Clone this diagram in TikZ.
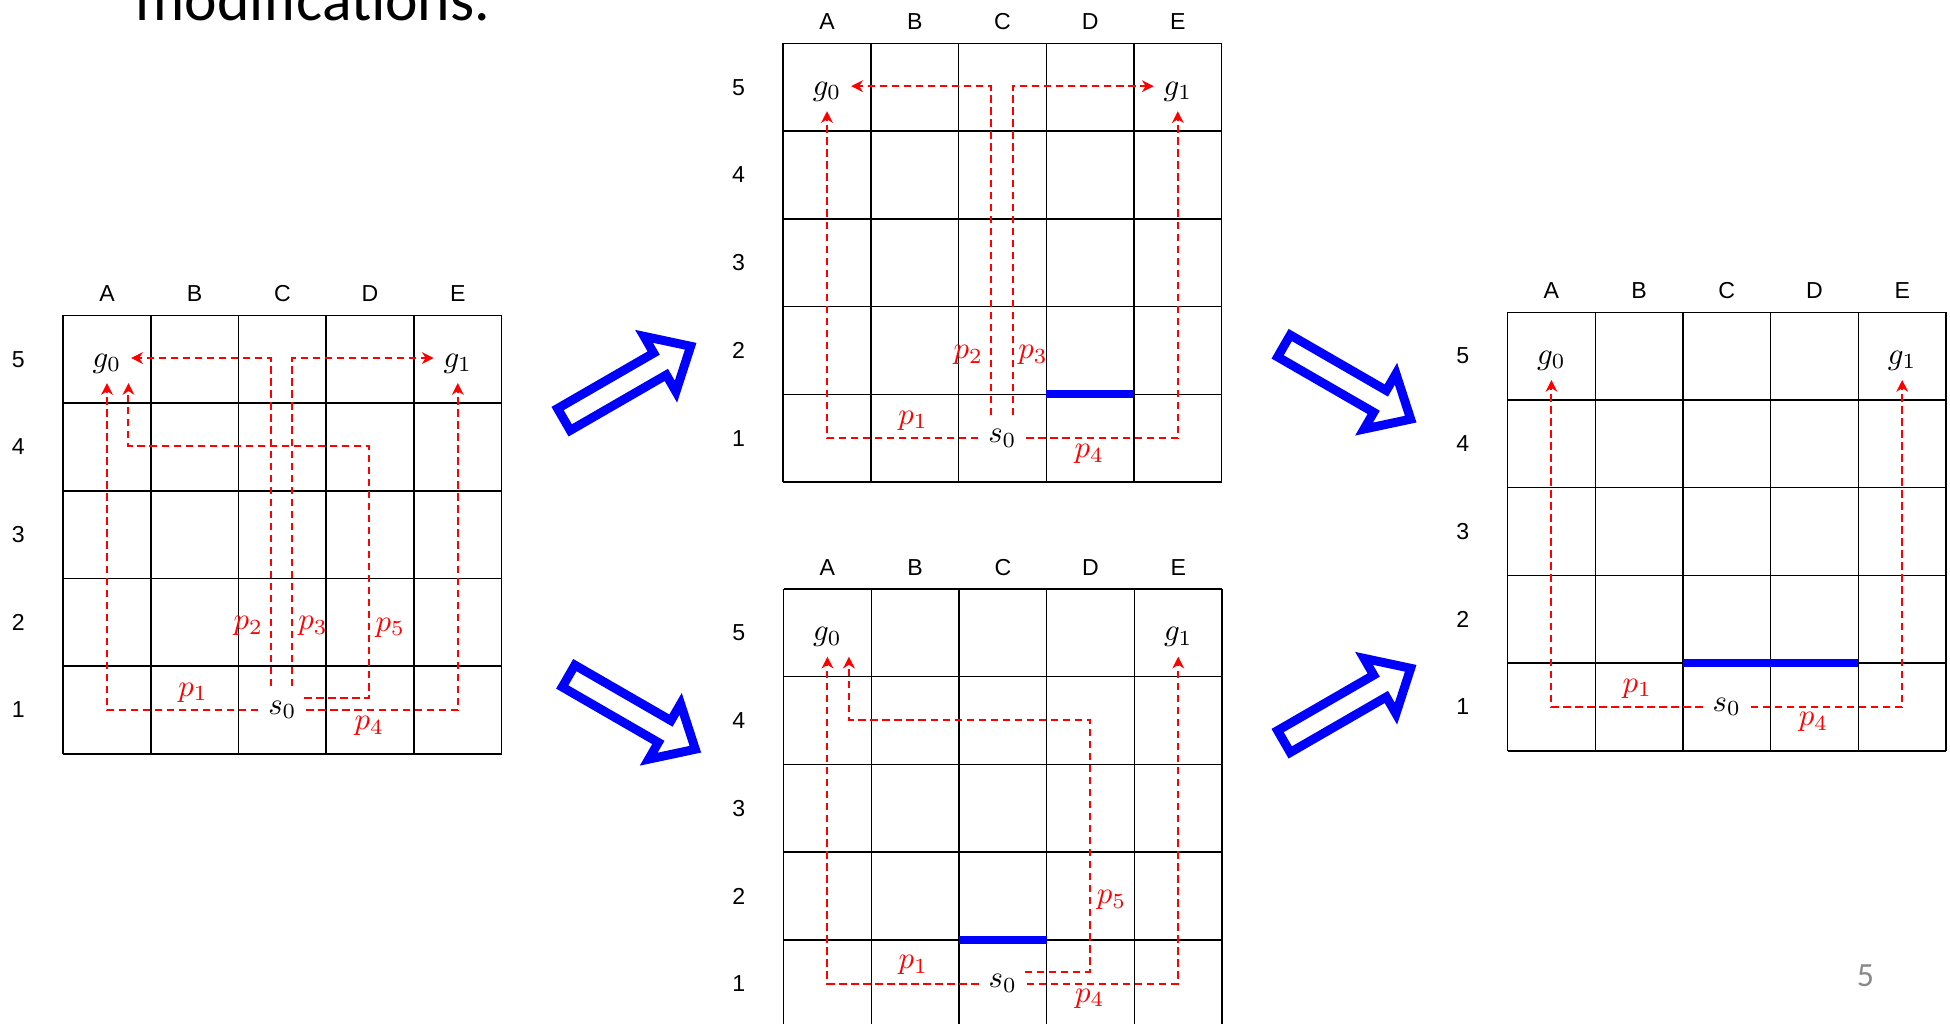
\documentclass[tikz,border=0pt]{standalone}
\usepackage{fontspec}
\setsansfont{Liberation Sans}
\newfontfamily\slidefont{Carlito}
\usetikzlibrary{arrows.meta}

\begin{document}
\begin{tikzpicture}
\definecolor{pathred}{RGB}{255,0,0}
\definecolor{wallblue}{RGB}{0,0,255}
\definecolor{pagegray}{RGB}{137,137,137}
\tikzset{
	cell/.style={line width=0.5pt},
	axis/.style={font=\sffamily\fontsize{7.5}{9}\selectfont},
	state/.style={inner sep=3pt},
	route/.style={pathred, line width=0.65pt, dash pattern=on 2.4pt off 1.5pt,
		-{Stealth[length=3.8pt,width=3.8pt,inset=1.2pt]}},
	plabel/.style={text=pathred, inner sep=1pt},
	wall/.style={wallblue, line width=2.7pt},
	bigarrow/.style={wallblue, line width=2.9pt, line join=miter}
}
	\useasboundingbox (0,0) rectangle (22.235,11.676);
	\clip (0,0) rectangle (22.235,11.676);
	\node[anchor=base west, inner sep=0, font=\slidefont\fontsize{20}{24}\selectfont] (title) at (1.54,11.44) {modifications.};
	\node[anchor=base, font=\slidefont\fontsize{11}{13}\selectfont, text=pagegray] (page) at (21.27,0.425) {5};
	% left board
	\begin{scope}[shift={(0.72,3.08)}]
	\draw[cell] (0,0) grid (5,5);
	\foreach \c [count=\i from 0] in {A,B,C,D,E} \node[axis] (colL\i) at (\i+0.5,5.25) {\c};
	\foreach \r in {1,...,5} \node[axis] (rowL\r) at (-0.51,\r-0.5) {\r};
	\node[state] (g0L) at (0.5,4.45) {$g_0$};
	\node[state] (g1L) at (4.5,4.45) {$g_1$};
	\node[state] (s0L) at (2.5,0.5) {$s_0$};
	\coordinate (p2L) at (2.365,0.77);
	\coordinate (p3L) at (2.615,0.77);
	\coordinate (p5L) at (2.75,0.64);
	\draw[route] (s0L.west) -| (g0L.south);
	\draw[route] (s0L.east) -| (g1L.south);
	\draw[route] (p2L) |- ([yshift=1.8pt]g0L.east);
	\draw[route] (p3L) |- ([yshift=1.8pt]g1L.west);
	\draw[route] (p5L) -| (3.49,3.51) -| ([xshift=0.245cm]g0L.south);
	\node[plabel] (l1L) at (1.48,0.70) {$p_1$};
	\node[plabel] (l2L) at (2.11,1.46) {$p_2$};
	\node[plabel] (l3L) at (2.85,1.46) {$p_3$};
	\node[plabel] (l5L) at (3.73,1.44) {$p_5$};
	\node[plabel] (l4L) at (3.49,0.32) {$p_4$};
	\end{scope}
	% top board
	\begin{scope}[shift={(8.93,6.18)}]
	\draw[cell] (0,0) grid (5,5);
	\foreach \c [count=\i from 0] in {A,B,C,D,E} \node[axis] (colT\i) at (\i+0.5,5.25) {\c};
	\foreach \r in {1,...,5} \node[axis] (rowT\r) at (-0.51,\r-0.5) {\r};
	\draw[wall] (3,1) -- (4,1);
	\node[state] (g0T) at (0.5,4.45) {$g_0$};
	\node[state] (g1T) at (4.5,4.45) {$g_1$};
	\node[state] (s0T) at (2.5,0.5) {$s_0$};
	\coordinate (p2T) at (2.365,0.76);
	\coordinate (p3T) at (2.615,0.76);
	\draw[route] (s0T.west) -| (g0T.south);
	\draw[route] (s0T.east) -| (g1T.south);
	\draw[route] (p2T) |- ([yshift=1.8pt]g0T.east);
	\draw[route] (p3T) |- ([yshift=1.8pt]g1T.west);
	\node[plabel] (l1T) at (1.48,0.70) {$p_1$};
	\node[plabel] (l2T) at (2.11,1.45) {$p_2$};
	\node[plabel] (l3T) at (2.85,1.45) {$p_3$};
	\node[plabel] (l4T) at (3.49,0.32) {$p_4$};
	\end{scope}
	% bottom board
	\begin{scope}[shift={(8.935,-0.04)}]
	\draw[cell] (0,0) grid (5,5);
	\foreach \c [count=\i from 0] in {A,B,C,D,E} \node[axis] (colB\i) at (\i+0.5,5.25) {\c};
	\foreach \r in {1,...,5} \node[axis] (rowB\r) at (-0.51,\r-0.5) {\r};
	\draw[wall] (2,1) -- (3,1);
	\node[state] (g0B) at (0.5,4.45) {$g_0$};
	\node[state] (g1B) at (4.5,4.45) {$g_1$};
	\node[state] (s0B) at (2.5,0.5) {$s_0$};
	\coordinate (p5B) at (2.75,0.635);
	\draw[route] (s0B.west) -| (g0B.south);
	\draw[route] (s0B.east) -| (g1B.south);
	\draw[route] (p5B) -| (3.49,3.51) -| ([xshift=0.245cm]g0B.south);
	\node[plabel] (l1B) at (1.48,0.71) {$p_1$};
	\node[plabel] (l5B) at (3.74,1.45) {$p_5$};
	\node[plabel] (l4B) at (3.49,0.33) {$p_4$};
	\end{scope}
	% right board
	\begin{scope}[shift={(17.19,3.115)}]
	\draw[cell] (0,0) grid (5,5);
	\foreach \c [count=\i from 0] in {A,B,C,D,E} \node[axis] (colR\i) at (\i+0.5,5.25) {\c};
	\foreach \r in {1,...,5} \node[axis] (rowR\r) at (-0.51,\r-0.5) {\r};
	\draw[wall] (2,1) -- (4,1);
	\node[state] (g0R) at (0.5,4.45) {$g_0$};
	\node[state] (g1R) at (4.5,4.45) {$g_1$};
	\node[state] (s0R) at (2.5,0.5) {$s_0$};
	\draw[route] (s0R.west) -| (g0R.south);
	\draw[route] (s0R.east) -| (g1R.south);
	\node[plabel] (l1R) at (1.48,0.71) {$p_1$};
	\node[plabel] (l4R) at (3.49,0.33) {$p_4$};
	\end{scope}
	% block arrows between boards
	\foreach \x/\y/\a in {6.43/6.893/30, 6.483/3.967/-30, 14.64/7.731/-30, 14.64/3.221/30}
		\draw[bigarrow, shift={(\x,\y)}, rotate=\a] (0,-0.144) -- (1.265,-0.144) -- (1.265,-0.364)
			-- (1.669,0) -- (1.265,0.364) -- (1.265,0.144) -- (0,0.144) -- cycle;
\end{tikzpicture}
\end{document}
